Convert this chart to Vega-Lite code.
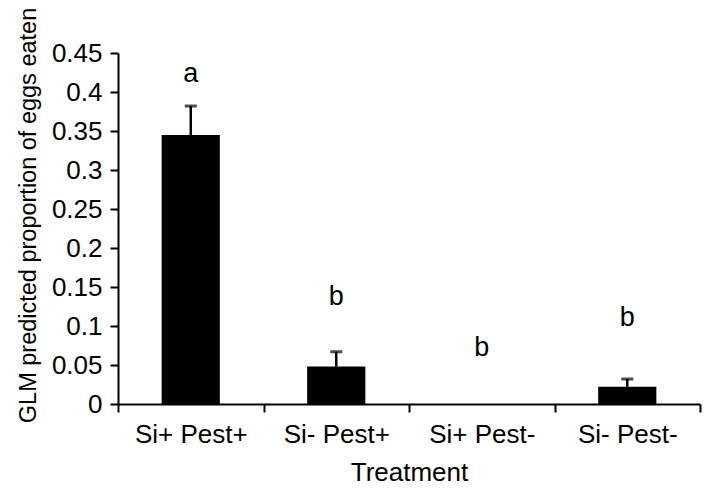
{
  "$schema": "https://vega.github.io/schema/vega-lite/v6.json",
  "width": 582,
  "height": 351,
  "autosize": "none",
  "padding": {"left": 118, "top": 53, "right": 8, "bottom": 85},
  "background": "white",
  "config": {
    "view": {"stroke": null},
    "font": "Liberation Sans"
  },
  "data": {
    "values": [
      {"treatment": "Si+ Pest+", "value": 0.345, "upper": 0.382, "letter": "a", "letterPos": 0.413},
      {"treatment": "Si- Pest+", "value": 0.048, "upper": 0.067, "letter": "b", "letterPos": 0.127},
      {"treatment": "Si+ Pest-", "value": 0, "upper": null, "letter": "b", "letterPos": 0.062},
      {"treatment": "Si- Pest-", "value": 0.022, "upper": 0.032, "letter": "b", "letterPos": 0.1}
    ]
  },
  "encoding": {
    "x": {
      "field": "treatment",
      "type": "nominal",
      "sort": null,
      "scale": {"paddingInner": 0, "paddingOuter": 0},
      "axis": {
        "title": "Treatment",
        "labelAngle": 0,
        "tickBand": "extent",
        "grid": false,
        "domainColor": "black",
        "domainWidth": 2,
        "tickColor": "black",
        "tickWidth": 2,
        "tickSize": 8,
        "labelColor": "black",
        "labelFontSize": 26,
        "labelPadding": 9,
        "titleColor": "black",
        "titleFontSize": 26,
        "titleFontWeight": "normal",
        "titlePadding": 12
      }
    },
    "y": {
      "field": "value",
      "type": "quantitative",
      "scale": {"domain": [0, 0.45], "nice": false},
      "axis": {
        "title": "GLM predicted proportion of eggs eaten",
        "values": [0, 0.05, 0.1, 0.15, 0.2, 0.25, 0.3, 0.35, 0.4, 0.45],
        "format": ".2~f",
        "grid": false,
        "domainColor": "black",
        "domainWidth": 2,
        "tickColor": "black",
        "tickWidth": 2,
        "tickSize": 8,
        "labelColor": "black",
        "labelFontSize": 26,
        "labelPadding": 8,
        "titleColor": "black",
        "titleFontSize": 23.5,
        "titleFontWeight": "normal",
        "titlePadding": 11,
        "titleY": 162
      }
    }
  },
  "layer": [
    {
      "mark": {"type": "bar", "color": "black", "width": {"band": 0.4}}
    },
    {
      "mark": {"type": "rule", "strokeWidth": 2.5, "color": "black"},
      "encoding": {
        "y2": {"field": "upper"}
      }
    },
    {
      "mark": {"type": "tick", "thickness": 3, "size": 12, "color": "black"},
      "encoding": {
        "y": {"field": "upper", "type": "quantitative"}
      }
    },
    {
      "mark": {"type": "text", "fontSize": 27, "baseline": "alphabetic", "color": "black"},
      "encoding": {
        "y": {"field": "letterPos", "type": "quantitative"},
        "text": {"field": "letter"}
      }
    }
  ]
}
